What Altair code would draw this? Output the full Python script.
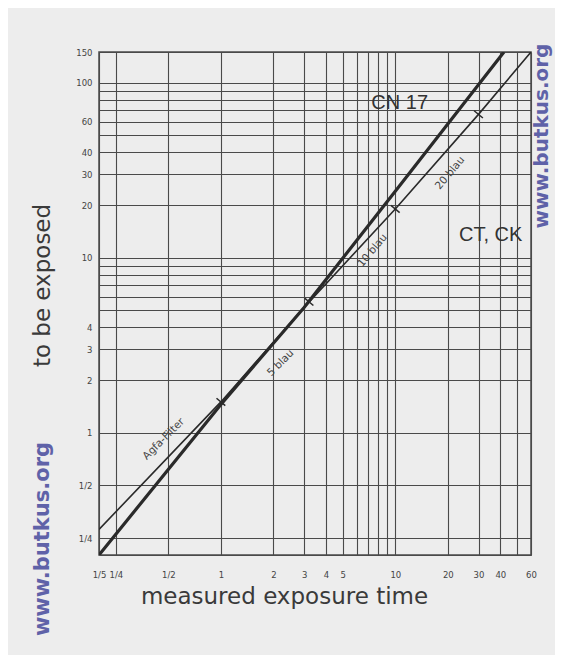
import altair as alt
import pandas as pd

# ---- data ----
cn_x = [0.2, 1.0, 3.0, 10.0, 42.0]          # CN 17 (thick line)
cn_y = [0.2, 1.45, 5.2, 24.0, 150.0]
ct_x = [0.2, 1.0, 3.0, 10.0, 30.0, 60.0]    # CT, CK (thin line)
ct_y = [0.28, 1.5, 5.2, 19.0, 66.0, 150.0]

mark_x = [1.0, 3.2, 10.0, 30.0]             # filter change marks on thin line
mark_y = [1.5, 5.6, 19.0, 66.0]

filter_text = ["Agfa-Filter", "5 blau", "10 blau", "20 blau"]
filter_x = [0.47, 2.2, 7.4, 20.6]
filter_y = [0.92, 2.5, 11.0, 30.5]
filter_angle = [315, 315, 310, 310]

film_text = ["CN 17", "CT, CK"]
film_x = [10.6, 35.2]
film_y = [76.6, 13.5]

x_grid = [0.2, 0.25, 0.5, 1, 2, 3, 4, 5, 6, 7, 8, 9, 10, 20, 30, 40, 50, 60]
y_grid = [0.2, 0.25, 0.5, 1, 2, 3, 4, 5, 6, 7, 8, 9, 10, 20, 30, 40, 50, 60,
          70, 80, 90, 100, 150]
x_label_values = [0.2, 0.25, 0.5, 1, 2, 3, 4, 5, 10, 20, 30, 40, 60]
x_label_text = ["1/5", "1/4", "1/2", "1", "2", "3", "4", "5", "10", "20", "30", "40", "60"]
y_label_values = [0.25, 0.5, 1, 2, 3, 4, 10, 20, 30, 40, 60, 100, 150]
y_label_text = ["1/4", "1/2", "1", "2", "3", "4", "10", "20", "30", "40", "60", "100", "150"]


def label_expr(vals, texts):
    expr = "''"
    for v, t in reversed(list(zip(vals, texts))):
        expr = f"abs(datum.value - {v}) < 1e-6 ? '{t}' : ({expr})"
    return expr


GRID = "#4a4a4a"
INK = "#2a2a2a"

xs = alt.Scale(type="log", domain=[0.2, 60], nice=False)
ys = alt.Scale(type="log", domain=[0.2, 150], nice=False)

x_axis = alt.Axis(values=x_grid, labelExpr=label_expr(x_label_values, x_label_text),
                  title="measured exposure time", grid=True, gridColor=GRID,
                  gridWidth=1.1, gridOpacity=1, ticks=False, domain=False,
                  labelFont="DejaVu Sans", labelFontSize=8.5, labelColor="#444",
                  labelPadding=15, labelOverlap=False, labelFlush=False, labelBound=False,
                  titleFont="DejaVu Sans", titleFontSize=23, titleFontWeight="normal",
                  titleColor="#3a3a3a", titleX=185, titleY=30, titleAlign="center")
y_axis = alt.Axis(values=y_grid, labelExpr=label_expr(y_label_values, y_label_text),
                  title="to be exposed", grid=True, gridColor=GRID,
                  gridWidth=1.1, gridOpacity=1, ticks=False, domain=False,
                  labelFont="DejaVu Sans", labelFontSize=8.5, labelColor="#444",
                  labelPadding=7, labelOverlap=False, labelFlush=False, labelBound=False,
                  titleFont="DejaVu Sans", titleFontSize=23, titleFontWeight="normal",
                  titleColor="#3a3a3a", titleX=-45, titleY=233, titleAlign="center")


def X():
    return alt.X("x:Q", scale=xs, axis=x_axis)


def Y():
    return alt.Y("y:Q", scale=ys, axis=y_axis)


cn_df = pd.DataFrame({"x": cn_x, "y": cn_y, "o": range(len(cn_x))})
ct_df = pd.DataFrame({"x": ct_x, "y": ct_y, "o": range(len(ct_x))})
mk_df = pd.DataFrame({"x": mark_x, "y": mark_y})
ft_df = pd.DataFrame({"x": filter_x, "y": filter_y, "t": filter_text, "a": filter_angle})
fl_df = pd.DataFrame({"x": film_x, "y": film_y, "t": film_text})

cn_line = alt.Chart(cn_df).mark_line(color=INK, strokeWidth=3.2, clip=True).encode(
    x=X(), y=Y(), order="o:Q")
ct_line = alt.Chart(ct_df).mark_line(color=INK, strokeWidth=1.6, clip=True).encode(
    x=X(), y=Y(), order="o:Q")
marks = alt.Chart(mk_df).mark_point(
    shape="M -0.77 -0.64 L 0.77 0.64", filled=False, color=INK, strokeWidth=1.5,
    size=130, opacity=1).encode(x=X(), y=Y())
ftext = alt.Chart(ft_df).mark_text(
    font="DejaVu Sans", fontSize=10.5, color="#444").encode(
    x=X(), y=Y(), text="t:N", angle=alt.Angle("a:Q", scale=None))
ltext = alt.Chart(fl_df).mark_text(
    font="Liberation Sans Narrow, Liberation Sans, sans-serif", fontSize=20,
    color="#333").encode(x=X(), y=Y(), text="t:N")

wm_left = alt.Chart(pd.DataFrame({"t": ["www.butkus.org"]})).mark_text(
    angle=270, font="DejaVu Sans", fontWeight="bold", fontSize=21,
    color="#5f62a8", align="center", baseline="middle").encode(
    x=alt.value(-56), y=alt.value(487), text="t:N")
wm_right = alt.Chart(pd.DataFrame({"t": ["www.butkus.org"]})).mark_text(
    angle=270, font="DejaVu Sans", fontWeight="bold", fontSize=20,
    color="#5f62a8", align="center", baseline="middle").encode(
    x=alt.value(443), y=alt.value(84), text="t:N")

chart = alt.layer(cn_line, ct_line, marks, ftext, ltext, wm_left, wm_right).properties(
    width=432, height=503,
    autosize=alt.AutoSizeParams(type="none"),
    padding={"left": 91, "top": 44, "right": 24, "bottom": 100},
    background="#ededed",
).configure_view(stroke=GRID, strokeWidth=1.5)

chart.save("out.html", embed_options={"renderer": "svg", "actions": False})
